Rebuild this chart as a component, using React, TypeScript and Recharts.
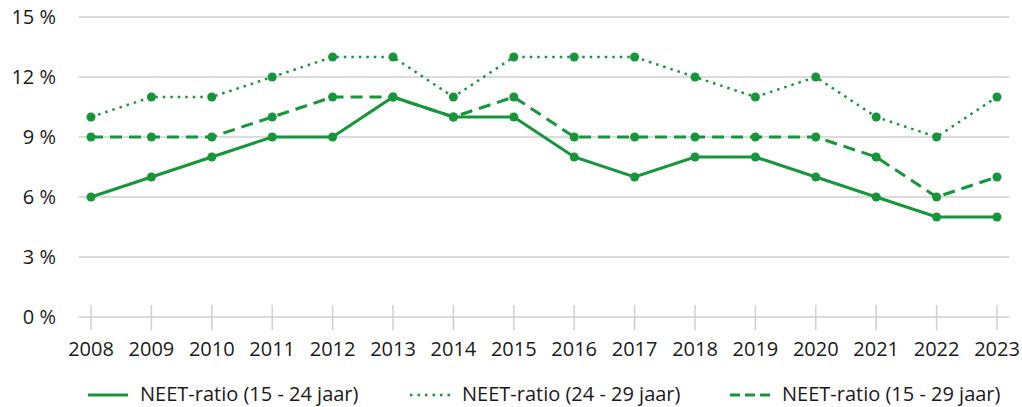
import React from 'react';
import { LineChart, Line, XAxis, YAxis, CartesianGrid, Legend } from 'recharts';

const years = ['2008','2009','2010','2011','2012','2013','2014','2015','2016','2017','2018','2019','2020','2021','2022','2023'];
const neet1524 = [6, 7, 8, 9, 9, 11, 10, 10, 8, 7, 8, 8, 7, 6, 5, 5];
const neet2429 = [10, 11, 11, 12, 13, 13, 11, 13, 13, 13, 12, 11, 12, 10, 9, 11];
const neet1529 = [9, 9, 9, 10, 11, 11, 10, 11, 9, 9, 9, 9, 9, 8, 6, 7];
const yTicks = [0, 3, 6, 9, 12, 15];
const seriesNames = ['NEET-ratio (15 - 24 jaar)', 'NEET-ratio (24 - 29 jaar)', 'NEET-ratio (15 - 29 jaar)'];

const data = years.map((y, i) => ({ year: y, a: neet1524[i], b: neet2429[i], c: neet1529[i] }));

const GREEN = '#16963a';
const FONT = '"Open Sans", "Noto Sans", sans-serif';

const XTick = (props: any) => {
  const { x, y, payload } = props;
  return (
    <g>
      <line x1={x} x2={x} y1={y - 12} y2={y + 13} stroke="#cfcfcf" strokeWidth={1.5} />
      <text x={x} y={y + 39} textAnchor="middle" fontSize={20} fill="#1a1a1a" fontFamily={FONT}>
        {payload.value}
      </text>
    </g>
  );
};

const LegendContent = () => {
  const items = [
    { name: seriesNames[0], dash: undefined as string | undefined, w: 3 },
    { name: seriesNames[1], dash: '2.5 5', w: 2.5 },
    { name: seriesNames[2], dash: '10 5', w: 3 },
  ];
  const starts = [88, 410, 730];
  return (
    <svg width={1022} height={40} style={{ display: 'block' }}>
      {items.map((it, i) => (
        <g key={i}>
          <line x1={starts[i]} x2={starts[i] + 40} y1={28} y2={28} stroke={GREEN} strokeWidth={it.w} strokeDasharray={it.dash} />
          <text x={starts[i] + 52} y={34} fontSize={20} fill="#1a1a1a" fontFamily={FONT}>{it.name}</text>
        </g>
      ))}
    </svg>
  );
};

export default function App() {
  return (
    <div style={{ position: 'absolute', left: 0, top: 0, background: '#fff' }}>
      <LineChart width={1022} height={407} data={data} margin={{ top: 17, right: 13, left: 0, bottom: 0 }}>
        <CartesianGrid vertical={false} stroke="#cfcfcf" strokeWidth={1.5} />
        <XAxis
          dataKey="year"
          padding={{ left: 12, right: 12 }}
          axisLine={false}
          tickLine={false}
          tickSize={0}
          tickMargin={0}
          height={50}
          interval={0}
          tick={<XTick />}
        />
        <YAxis
          width={79}
          domain={[0, 15]}
          ticks={yTicks}
          axisLine={false}
          tickLine={false}
          tickSize={0}
          tickMargin={23}
          tickFormatter={(v: number) => `${v} %`}
          tick={{ fontSize: 20, fill: '#1a1a1a', fontFamily: FONT }}
        />
        <Legend verticalAlign="bottom" height={40} content={<LegendContent />} />
        <Line type="linear" dataKey="a" name={seriesNames[0]} stroke={GREEN} strokeWidth={3}
          dot={{ r: 4.5, fill: GREEN, stroke: 'none' }} activeDot={false} isAnimationActive={false} />
        <Line type="linear" dataKey="b" name={seriesNames[1]} stroke={GREEN} strokeWidth={2.5} strokeDasharray="2.5 5"
          dot={{ r: 4.5, fill: GREEN, stroke: 'none' }} activeDot={false} isAnimationActive={false} />
        <Line type="linear" dataKey="c" name={seriesNames[2]} stroke={GREEN} strokeWidth={3} strokeDasharray="12 7"
          dot={{ r: 4.5, fill: GREEN, stroke: 'none' }} activeDot={false} isAnimationActive={false} />
      </LineChart>
    </div>
  );
}
